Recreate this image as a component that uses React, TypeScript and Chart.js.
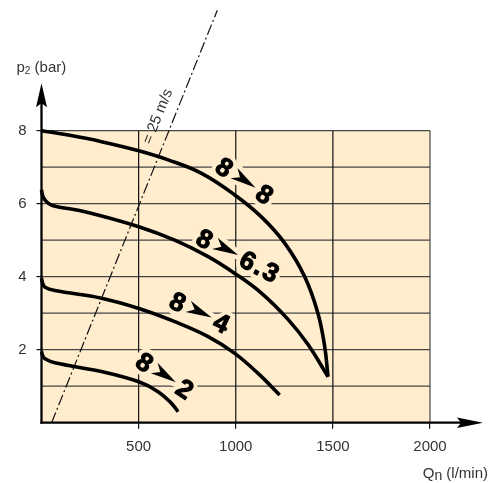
import React, { useEffect, useRef } from 'react';
import { Chart, registerables } from 'chart.js';

Chart.register(...registerables);

// ---- axis values ----
const xTickValues = [500, 1000, 1500, 2000];
const yTickValues = [2, 4, 6, 8];
const yGridValues = [1, 2, 3, 4, 5, 6, 7, 8];
const xMax = 2000;
const yMax = 8;

// ---- series: flow Qn (l/min) vs outlet pressure p2 (bar) ----
const flow8to8 = [0, 138, 309, 501, 652, 824, 995, 1132, 1252, 1355, 1423, 1458, 1475];
const pressure8to8 = [8, 7.88, 7.7, 7.45, 7.2, 6.83, 6.24, 5.64, 4.92, 4.0, 3.0, 2.08, 1.26];

const flow8to63 = [0, 6, 18, 52, 224, 501, 686, 858, 995, 1132, 1269, 1372, 1475];
const pressure8to63 = [6.38, 6.22, 6.1, 5.96, 5.78, 5.37, 5.0, 4.55, 4.09, 3.55, 2.83, 2.14, 1.26];

const flow8to4 = [0, 6, 18, 69, 309, 501, 686, 858, 995, 1115, 1226];
const pressure8to4 = [3.96, 3.82, 3.71, 3.62, 3.41, 3.13, 2.77, 2.36, 1.9, 1.35, 0.76];

const flow8to2 = [0, 6, 18, 69, 309, 501, 600, 669, 703];
const pressure8to2 = [1.95, 1.84, 1.75, 1.64, 1.4, 1.12, 0.85, 0.53, 0.3];

// 25 m/s velocity limit line
const velocityFlow = [52, 905];
const velocityPressure = [0, 11.3];
const velocityLabel = '= 25 m/s';

// curve labels
const curveLabelFrom = ['8', '8', '8', '8'];
const curveLabelTo = ['8', '6.3', '4', '2'];
const curveLabelFlow = [943, 841, 703, 532];
const curveLabelPressure = [7.01, 5.05, 3.32, 1.67];
const curveLabelAngle = [34, 26.6, 25.6, 33.6];

const BG = '#FFEDCE';
const FONT = '"Liberation Sans", Arial, Helvetica, sans-serif';

const zip = (xs: number[], ys: number[]) => xs.map((x, i) => ({ x, y: ys[i] }));

const backgroundPlugin = {
  id: 'bgGrid',
  beforeDraw(chart: any) {
    const { ctx, scales } = chart;
    const x = scales.x, y = scales.y;
    const l = x.getPixelForValue(0), r = x.getPixelForValue(xMax);
    const t = y.getPixelForValue(yMax), b = y.getPixelForValue(0);
    ctx.save();
    ctx.fillStyle = BG;
    ctx.fillRect(l, t, r - l, b - t);
    ctx.strokeStyle = '#454545';
    ctx.lineWidth = 1.3;
    for (const v of yGridValues) {
      const py = y.getPixelForValue(v);
      ctx.beginPath();
      ctx.moveTo(l, py);
      ctx.lineTo(r, py);
      ctx.stroke();
    }
    for (const v of xTickValues) {
      const px = x.getPixelForValue(v);
      ctx.strokeStyle = v === xMax ? '#454545' : '#111';
      ctx.lineWidth = 1.2;
      ctx.beginPath();
      ctx.moveTo(px, t);
      ctx.lineTo(px, b);
      ctx.stroke();
    }
    ctx.restore();
  },
};

const labelsPlugin = {
  id: 'curveLabels',
  beforeDatasetsDraw(chart: any) {
    const { ctx, scales } = chart;
    const x = scales.x, y = scales.y;
    ctx.save();
    const capH = 18.6;
    const L = 26, gap = 4, h = 12.5;
    curveLabelFrom.forEach((from, i) => {
      const to = curveLabelTo[i];
      const px = x.getPixelForValue(curveLabelFlow[i]);
      const py = y.getPixelForValue(curveLabelPressure[i]);
      ctx.save();
      ctx.translate(px, py);
      ctx.rotate((curveLabelAngle[i] * Math.PI) / 180);
      ctx.font = `bold 26px ${FONT}`;
      ctx.textAlign = 'left';
      ctx.textBaseline = 'alphabetic';
      (ctx as any).letterSpacing = '0px';
      const wFrom = ctx.measureText(from).width;
      const xFrom = -wFrom / 2;
      const ax0 = wFrom / 2 + gap;
      const ax1 = ax0 + L;
      const xTo = ax1 + gap;
      const arrow = () => {
        ctx.beginPath();
        ctx.moveTo(ax1, 0);
        ctx.lineTo(ax0, -h / 2);
        ctx.lineTo(ax0 + L * 0.28, 0);
        ctx.lineTo(ax0, h / 2);
        ctx.closePath();
      };
      ctx.lineJoin = 'round';
      // halo
      ctx.strokeStyle = BG;
      ctx.lineWidth = 9;
      ctx.strokeText(from, xFrom, capH / 2);
      arrow();
      ctx.stroke();
      (ctx as any).letterSpacing = to.length > 1 ? '2px' : '0px';
      ctx.strokeText(to, xTo, capH / 2);
      // glyphs (slightly emboldened)
      ctx.fillStyle = '#000';
      ctx.strokeStyle = '#000';
      ctx.lineWidth = 1.1;
      ctx.fillText(to, xTo, capH / 2);
      ctx.strokeText(to, xTo, capH / 2);
      (ctx as any).letterSpacing = '0px';
      ctx.fillText(from, xFrom, capH / 2);
      ctx.strokeText(from, xFrom, capH / 2);
      arrow();
      ctx.fill();
      ctx.restore();
    });
    ctx.restore();
  },
  afterDatasetsDraw(chart: any) {
    const { ctx, scales, chartArea } = chart;
    const x = scales.x, y = scales.y;
    const ox = x.getPixelForValue(0), oy = y.getPixelForValue(0);
    ctx.save();
    // axes with arrows
    ctx.strokeStyle = '#000';
    ctx.fillStyle = '#000';
    ctx.lineWidth = 2.3;
    const yTip = chartArea.top - 47.5;
    ctx.beginPath();
    ctx.moveTo(ox, oy + 1.1);
    ctx.lineTo(ox, yTip + 12);
    ctx.stroke();
    ctx.beginPath();
    ctx.moveTo(ox, yTip);
    ctx.lineTo(ox - 5.5, yTip + 24);
    ctx.lineTo(ox, yTip + 20);
    ctx.lineTo(ox + 5.5, yTip + 24);
    ctx.closePath();
    ctx.fill();
    const xTip = chartArea.right + 53;
    ctx.beginPath();
    ctx.moveTo(ox - 1.1, oy);
    ctx.lineTo(xTip - 12, oy);
    ctx.stroke();
    ctx.beginPath();
    ctx.moveTo(xTip, oy);
    ctx.lineTo(xTip - 26, oy - 5.3);
    ctx.lineTo(xTip - 22, oy);
    ctx.lineTo(xTip - 26, oy + 5.3);
    ctx.closePath();
    ctx.fill();

    // velocity label along the dash-dot line
    const p0x = x.getPixelForValue(velocityFlow[0]), p0y = y.getPixelForValue(velocityPressure[0]);
    const p1x = x.getPixelForValue(velocityFlow[1]), p1y = y.getPixelForValue(velocityPressure[1]);
    const ang = Math.atan2(p1y - p0y, p1x - p0x);
    const tt = 0.728;
    const cx = p0x + (p1x - p0x) * tt, cy = p0y + (p1y - p0y) * tt;
    ctx.translate(cx, cy);
    ctx.rotate(ang);
    ctx.fillStyle = '#333';
    ctx.font = `15px ${FONT}`;
    ctx.textAlign = 'center';
    ctx.textBaseline = 'middle';
    ctx.fillText(velocityLabel, 0, -15.5);
    ctx.restore();

    // axis titles
    ctx.save();
    ctx.fillStyle = '#333';
    ctx.textBaseline = 'alphabetic';
    ctx.textAlign = 'left';
    ctx.font = `15px ${FONT}`;
    let tx = 16.5;
    const ty = 71.5;
    ctx.fillText('p', tx, ty);
    tx += ctx.measureText('p').width;
    ctx.font = `10px ${FONT}`;
    ctx.fillText('2', tx, ty + 2.5);
    tx += ctx.measureText('2').width;
    ctx.font = `15px ${FONT}`;
    ctx.fillText(' (bar)', tx, ty);

    const qy = 477.5;
    ctx.font = `15px ${FONT}`;
    const wQ = ctx.measureText('Q').width;
    const wUnit = ctx.measureText(' (l/min)').width;
    ctx.font = `14px ${FONT}`;
    const wN = ctx.measureText('n').width;
    let qx = 488 - (wQ + wN + wUnit);
    ctx.font = `15px ${FONT}`;
    ctx.fillText('Q', qx, qy);
    qx += wQ;
    ctx.font = `14px ${FONT}`;
    ctx.fillText('n', qx, qy + 2.5);
    qx += wN;
    ctx.font = `15px ${FONT}`;
    ctx.fillText(' (l/min)', qx, qy);
    ctx.restore();
  },
};

export default function App() {
  const canvasRef = useRef<HTMLCanvasElement | null>(null);

  useEffect(() => {
    const canvas = canvasRef.current;
    if (!canvas) return;
    const curveStyle = {
      borderColor: '#000',
      borderWidth: 3.6,
      pointRadius: 0,
      fill: false,
      tension: 0.4,
      clip: false as any,
      borderCapStyle: 'butt' as const,
    };
    const chart = new Chart(canvas, {
      type: 'line',
      data: {
        datasets: [
          { label: '8 ➤ 8', data: zip(flow8to8, pressure8to8), ...curveStyle },
          { label: '8 ➤ 6.3', data: zip(flow8to63, pressure8to63), ...curveStyle },
          { label: '8 ➤ 4', data: zip(flow8to4, pressure8to4), ...curveStyle },
          { label: '8 ➤ 2', data: zip(flow8to2, pressure8to2), ...curveStyle },
          {
            label: '25 m/s',
            data: zip(velocityFlow, velocityPressure),
            borderColor: '#111',
            borderWidth: 1.2,
            borderDash: [11, 3, 2, 3],
            pointRadius: 0,
            fill: false,
            tension: 0,
            clip: false as any,
          },
        ],
      },
      options: {
        animation: false,
        responsive: false,
        events: [],
        layout: { padding: { top: 130.7, right: 68, left: 0, bottom: 0 } },
        plugins: { legend: { display: false }, tooltip: { enabled: false } },
        scales: {
          x: {
            type: 'linear',
            min: 0,
            max: xMax,
            afterFit: (s: any) => { s.height = 60.3; },
            afterBuildTicks: (s: any) => { s.ticks = xTickValues.map((v) => ({ value: v })); },
            grid: { drawOnChartArea: false, drawTicks: true, tickLength: 6, color: '#111', lineWidth: 1.2 },
            border: { display: false },
            ticks: {
              padding: 9,
              color: '#333',
              font: { family: FONT, size: 15 },
              maxRotation: 0,
              autoSkip: false,
              callback: (v: any) => String(v),
            },
          },
          y: {
            type: 'linear',
            min: 0,
            max: yMax,
            afterFit: (s: any) => { s.width = 41.5; },
            afterBuildTicks: (s: any) => { s.ticks = yTickValues.map((v) => ({ value: v })); },
            grid: { drawOnChartArea: false, drawTicks: true, tickLength: 5, color: '#111', lineWidth: 1.2 },
            border: { display: false },
            ticks: {
              padding: 10,
              color: '#333',
              font: { family: FONT, size: 15 },
              autoSkip: false,
              callback: (v: any) => String(v),
            },
          },
        },
      },
      plugins: [backgroundPlugin, labelsPlugin],
    });
    return () => chart.destroy();
  }, []);

  return (
    <div style={{ position: 'absolute', left: 0, top: 0, width: 498, height: 483, background: '#fff' }}>
      <canvas ref={canvasRef} width={498} height={483} style={{ display: 'block' }} />
    </div>
  );
}
